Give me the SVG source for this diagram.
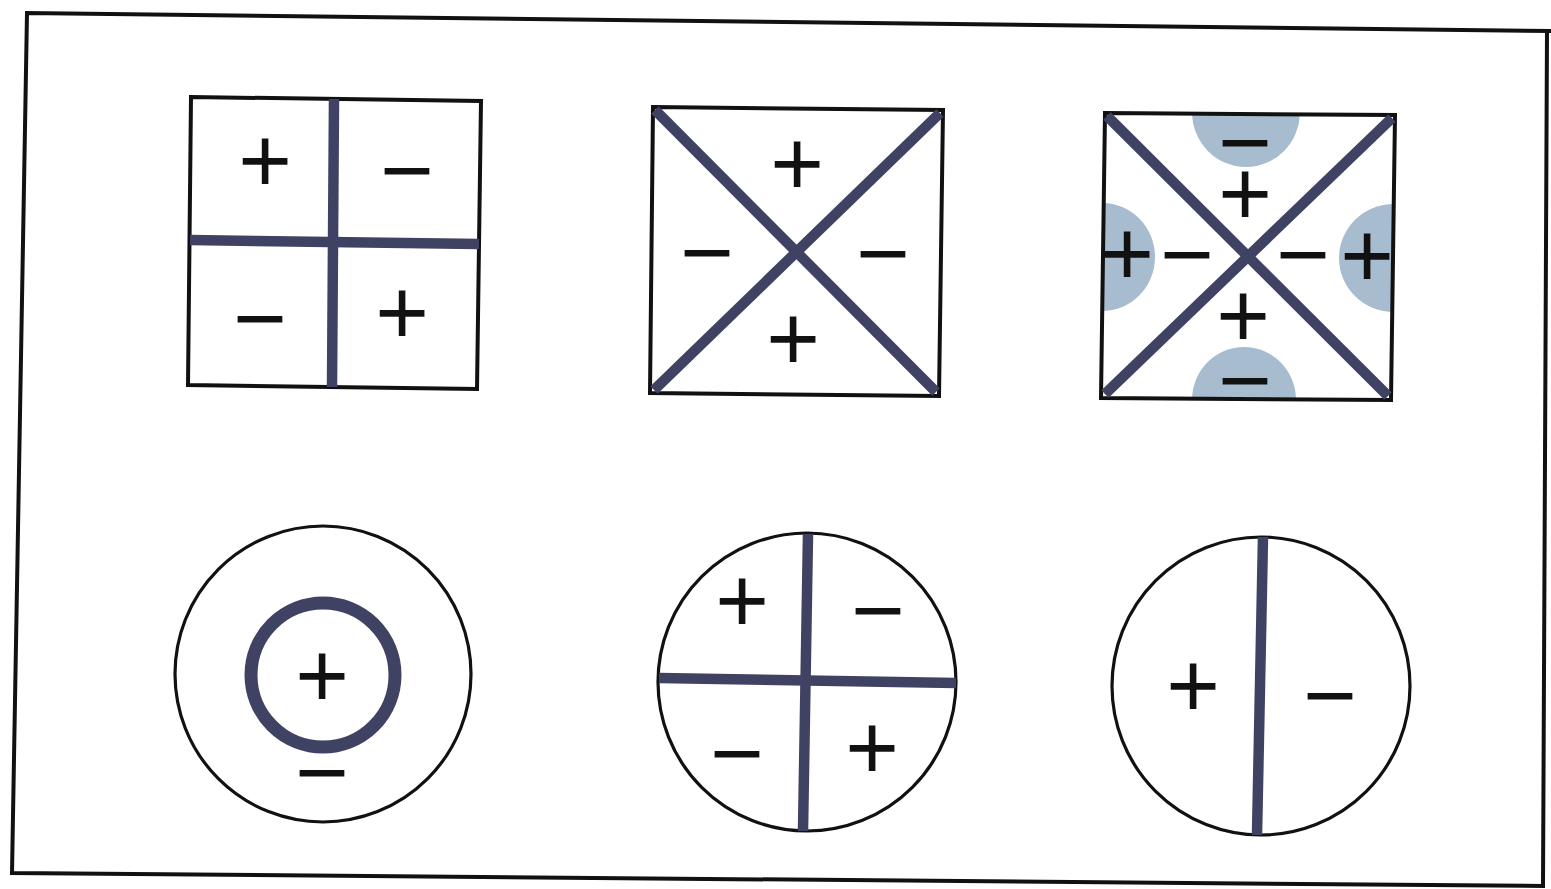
<svg xmlns="http://www.w3.org/2000/svg" width="1551" height="889" viewBox="0 0 1551 889">
<style>
.frame{fill:none;stroke:#111;stroke-width:4;stroke-linejoin:miter}
.box{fill:#fff;stroke:#111;stroke-width:4}
.circ{fill:#fff;stroke:#111;stroke-width:3.2}
.thick{stroke:#3f4262;stroke-width:10.5;fill:none;stroke-linecap:butt}
.lobe{fill:#a8bccf}
.sg{font-family:"Liberation Sans",Arial,sans-serif;font-size:92px;fill:#111;text-anchor:middle}
</style>
<rect width="1551" height="889" fill="#fff"/>
<path class="frame" d="M1551,31 L27,13 L12,873 L1543,886 L1547,31"/>

<g id="square1">
<polygon class="box" points="191,97 481,101 477,389 188,385"/>
<line class="thick" x1="334" y1="99" x2="332" y2="387"/>
<line class="thick" x1="190" y1="240" x2="479" y2="244"/>
<text class="sg" x="265" y="192">+</text>
<text class="sg" x="407" y="202">−</text>
<text class="sg" x="260" y="350">−</text>
<text class="sg" x="402" y="344">+</text>
</g>

<g id="square2">
<polygon class="box" points="653,107 943,110 939,396 650,393"/>
<line class="thick" x1="655" y1="110" x2="936" y2="392"/>
<line class="thick" x1="940" y1="113" x2="654" y2="390"/>
<text class="sg" x="797" y="195">+</text>
<text class="sg" x="707" y="284">−</text>
<text class="sg" x="883" y="285">−</text>
<text class="sg" x="793" y="370">+</text>
</g>

<g id="square3">
<clipPath id="c3"><polygon points="1105,113 1395,115 1391,400 1101,398"/></clipPath>
<polygon points="1105,113 1395,115 1391,400 1101,398" fill="#fff"/>
<g clip-path="url(#c3)">
<ellipse class="lobe" cx="1246" cy="112" rx="54" ry="55"/>
<ellipse class="lobe" cx="1102" cy="257" rx="53" ry="54"/>
<ellipse class="lobe" cx="1394" cy="258" rx="55" ry="54"/>
<ellipse class="lobe" cx="1244" cy="400" rx="52" ry="53"/>
</g>
<polygon points="1105,113 1395,115 1391,400 1101,398" fill="none" stroke="#111" stroke-width="4"/>
<line class="thick" x1="1107" y1="116" x2="1388" y2="396"/>
<line class="thick" x1="1392" y1="118" x2="1105" y2="394"/>
<text class="sg" x="1245" y="174">−</text>
<text class="sg" x="1245" y="225">+</text>
<text class="sg" x="1127" y="285">+</text>
<text class="sg" x="1187" y="286">−</text>
<text class="sg" x="1303" y="286">−</text>
<text class="sg" x="1367" y="287">+</text>
<text class="sg" x="1243" y="347">+</text>
<text class="sg" x="1245" y="412">−</text>
</g>

<g id="circle1">
<circle class="circ" cx="323" cy="674" r="148"/>
<circle cx="323" cy="675" r="72" fill="none" stroke="#3f4262" stroke-width="13"/>
<text class="sg" x="322" y="707">+</text>
<text class="sg" x="322" y="804">−</text>
</g>

<g id="circle2">
<circle class="circ" cx="807" cy="682" r="149"/>
<line class="thick" x1="808" y1="534" x2="803" y2="831"/>
<line class="thick" x1="659" y1="678" x2="956" y2="683"/>
<text class="sg" x="742" y="632">+</text>
<text class="sg" x="878" y="642">−</text>
<text class="sg" x="737" y="785">−</text>
<text class="sg" x="872" y="779">+</text>
</g>

<g id="circle3">
<circle class="circ" cx="1261" cy="686" r="149"/>
<line class="thick" x1="1263" y1="537" x2="1257" y2="835"/>
<text class="sg" x="1193" y="717">+</text>
<text class="sg" x="1330" y="727">−</text>
</g>
</svg>
